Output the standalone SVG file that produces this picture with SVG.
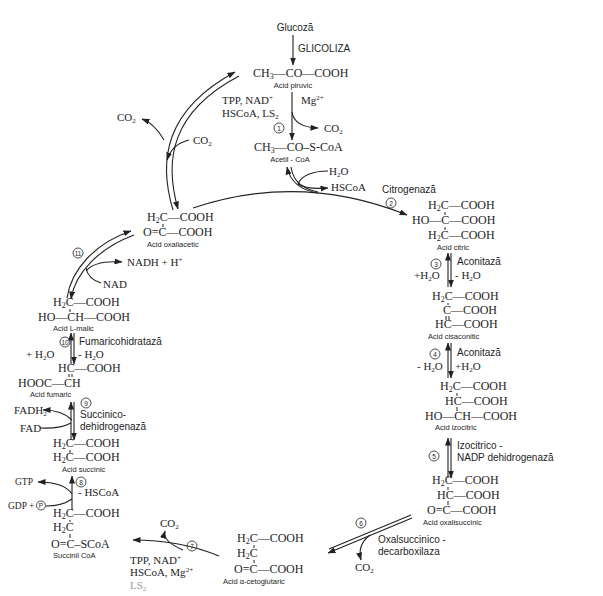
<svg xmlns="http://www.w3.org/2000/svg" width="603" height="596" viewBox="0 0 603 596">
<style>
text{fill:#1e1e1e}
.f{font-family:"Liberation Serif",serif;font-size:12px}
.s{font-family:"Liberation Serif",serif;font-size:11px}
.t{font-family:"Liberation Serif",serif;font-size:9.5px}
.l{font-family:"Liberation Sans",sans-serif;font-size:7.5px}
.e{font-family:"Liberation Sans",sans-serif;font-size:10px}
.n{font-family:"Liberation Sans",sans-serif;font-size:6.5px;text-anchor:middle}
.ln{stroke:#222;stroke-width:1.1;fill:none}
.a{stroke:#222;stroke-width:1.1;fill:none;marker-end:url(#ah)}
.b{stroke:#222;stroke-width:1}
.c{fill:none;stroke:#222;stroke-width:0.8}
</style>
<defs>
<marker id="ah" markerUnits="userSpaceOnUse" markerWidth="8" markerHeight="6" refX="7.5" refY="3" orient="auto"><path d="M0,0 L8,3 L0,6 z" fill="#222"/></marker>
</defs>
<rect width="603" height="596" fill="#fff"/>

<g id="connectors">
<path class="a" d="M293,35 L293,65"/>
<path class="a" d="M292,92 L292,140"/>
<path class="a" d="M292,112 Q294,127 318,128"/>
<path class="a" d="M193,208 Q300,172 407,215"/>
<path class="ln" d="M291,167 C293,180 300,188 318,192"/>
<path class="a" d="M318,193 C300,190 290,182 287,167"/>
<path class="ln" d="M328,171 C312,171 301,176 298,184"/>
<path class="a" d="M298,184 C304,188 315,189 328,188"/>
<path class="a" d="M173,210 C158,160 165,110 235,72"/>
<path class="a" d="M239,76 C171,112 164,160 178,209"/>
<path class="a" d="M164,140 Q155,124 142,119"/>
<path class="a" d="M189,140 Q172,144 167,160"/>
<path class="a" d="M67,298 C71,270 95,243 131,231"/>
<path class="a" d="M134,235 C99,248 75,273 71,299"/>
<path class="a" d="M86,271 Q95,260 122,262"/>
<path class="ln" d="M101,283 Q88,279 86,268"/>
<path class="a" d="M448,287 L448,253"/>
<path class="a" d="M451,253 L451,287"/>
<path class="a" d="M448,378 L448,343"/>
<path class="a" d="M451,343 L451,378"/>
<path class="a" d="M448,478 L448,438"/>
<path class="a" d="M451,438 L451,478"/>
<path class="ln" d="M411,515 L329,549" stroke-width="1.4"/>
<path class="a" d="M412,518 L328,553" stroke-width="1.4"/>
<path class="a" d="M370,535 Q357,545 361,560"/>
<path class="a" d="M219,556 Q180,540 133,540" stroke-width="1.4"/>
<path class="a" d="M183,550 Q162,541 165,531"/>
<path class="a" d="M72,510 L72,476"/>
<path class="a" d="M72,494 Q64,482 38,482"/>
<path class="ln" d="M46,506 Q62,506 72,499"/>
<path class="a" d="M71,440 L71,402"/>
<path class="a" d="M74,402 L74,440"/>
<path class="a" d="M72,420 Q62,410 43,410"/>
<path class="ln" d="M40,428 Q60,429 71,423"/>
<path class="a" d="M71,364 L71,333"/>
<path class="a" d="M74,333 L74,364"/>
</g>

<g id="glucoza"><text class="e" x="295" y="31" text-anchor="middle">Glucoză</text></g>
<g id="glicoliza"><text class="e" x="298" y="52">GLICOLIZA</text></g>

<g id="piruvic">
<text class="f" x="253" y="77">CH<tspan font-size="8" dy="2">3</tspan><tspan dy="-2">—CO—COOH</tspan></text>
<text class="l" x="293" y="88" text-anchor="middle">Acid piruvic</text>
</g>
<g id="step1">
<text class="s" x="222" y="104">TPP, NAD<tspan font-size="7" dy="-4">+</tspan></text>
<text class="s" x="222" y="117">HSCoA, LS<tspan font-size="7" dy="2">2</tspan></text>
<text class="s" x="301" y="104">Mg<tspan font-size="7" dy="-4">2+</tspan></text>
<text class="s" x="324" y="132">CO<tspan font-size="7" dy="2">2</tspan></text>
<circle class="c" cx="279" cy="128" r="5"/><text class="n" x="279" y="130.5">1</text>
</g>
<g id="acetilcoa">
<text class="f" x="254" y="151">CH<tspan font-size="8" dy="2">3</tspan><tspan dy="-2">—CO–S-CoA</tspan></text>
<text class="l" x="290" y="162" text-anchor="middle">Acetil - CoA</text>
<text class="s" x="329" y="175">H<tspan font-size="7" dy="2">2</tspan><tspan dy="-2">O</tspan></text>
<text class="s" x="331" y="191">HSCoA</text>
</g>

<g id="co2-left">
<text class="s" x="117" y="121">CO<tspan font-size="7" dy="2">2</tspan></text>
<text class="s" x="193" y="144">CO<tspan font-size="7" dy="2">2</tspan></text>
</g>

<g id="oxaliacetic">
<text class="f" x="147" y="221">H<tspan font-size="8" dy="2">2</tspan><tspan dy="-2">C—COOH</tspan></text>
<text class="f" x="143" y="236">O=C—COOH</text>
<line class="b" x1="163" y1="224" x2="163" y2="227"/>
<text class="l" x="147" y="247">Acid oxaliacetic</text>
</g>

<g id="step2">
<text class="e" x="382" y="193">Citrogenază</text>
<circle class="c" cx="391" cy="203" r="5"/><text class="n" x="391" y="205.5">2</text>
</g>

<g id="citric">
<text class="f" x="428" y="209">H<tspan font-size="8" dy="2">2</tspan><tspan dy="-2">C—COOH</tspan></text>
<text class="f" x="412" y="224">HO—C—COOH</text>
<text class="f" x="428" y="239">H<tspan font-size="8" dy="2">2</tspan><tspan dy="-2">C—COOH</tspan></text>
<line class="b" x1="445" y1="212" x2="445" y2="215"/>
<line class="b" x1="445" y1="227" x2="445" y2="230"/>
<text class="l" x="437" y="250">Acid citric</text>
</g>
<g id="step3">
<circle class="c" cx="436" cy="264" r="5"/><text class="n" x="436" y="266.5">3</text>
<text class="e" x="457" y="265">Aconitază</text>
<text class="s" x="414" y="279">+H<tspan font-size="7" dy="2">2</tspan><tspan dy="-2">O</tspan></text>
<text class="s" x="455" y="279">- H<tspan font-size="7" dy="2">2</tspan><tspan dy="-2">O</tspan></text>
</g>

<g id="cisaconitic">
<text class="f" x="432" y="300">H<tspan font-size="8" dy="2">2</tspan><tspan dy="-2">C—COOH</tspan></text>
<text class="f" x="443" y="314">C—COOH</text>
<text class="f" x="435" y="328">HC—COOH</text>
<line class="b" x1="448" y1="303" x2="448" y2="305"/>
<line class="b" x1="446" y1="316" x2="446" y2="320"/>
<line class="b" x1="449" y1="316" x2="449" y2="320"/>
<text class="l" x="428" y="339">Acid cisaconitic</text>
</g>
<g id="step4">
<circle class="c" cx="435" cy="354" r="5"/><text class="n" x="435" y="356.5">4</text>
<text class="e" x="457" y="356">Aconitază</text>
<text class="s" x="417" y="370">- H<tspan font-size="7" dy="2">2</tspan><tspan dy="-2">O</tspan></text>
<text class="s" x="455" y="370">+H<tspan font-size="7" dy="2">2</tspan><tspan dy="-2">O</tspan></text>
</g>

<g id="izocitric">
<text class="f" x="440" y="390">H<tspan font-size="8" dy="2">2</tspan><tspan dy="-2">C—COOH</tspan></text>
<text class="f" x="445" y="405">HC—COOH</text>
<text class="f" x="425" y="420">HO—CH—COOH</text>
<line class="b" x1="457" y1="393" x2="457" y2="396"/>
<line class="b" x1="457" y1="407" x2="457" y2="411"/>
<text class="l" x="435" y="430">Acid izocitric</text>
</g>
<g id="step5">
<circle class="c" cx="434" cy="456" r="5"/><text class="n" x="434" y="458.5">5</text>
<text class="e" x="457" y="449">Izocitrico -</text>
<text class="e" x="457" y="461">NADP dehidrogenază</text>
</g>

<g id="oxalisuccinic">
<text class="f" x="432" y="484">H<tspan font-size="8" dy="2">2</tspan><tspan dy="-2">C—COOH</tspan></text>
<text class="f" x="437" y="499">HC—COOH</text>
<text class="f" x="427" y="514">O=C—COOH</text>
<line class="b" x1="448" y1="487" x2="448" y2="490"/>
<line class="b" x1="448" y1="501" x2="448" y2="505"/>
<text class="l" x="423" y="525">Acid oxalisuccinic</text>
</g>
<g id="step6">
<circle class="c" cx="361" cy="523" r="5"/><text class="n" x="361" y="525.5">6</text>
<text class="e" x="378" y="543">Oxalsuccinico -</text>
<text class="e" x="378" y="555">decarboxilaza</text>
<text class="s" x="355" y="571">CO<tspan font-size="7" dy="2">2</tspan></text>
</g>

<g id="cetoglutaric">
<text class="f" x="237" y="542">H<tspan font-size="8" dy="2">2</tspan><tspan dy="-2">C—COOH</tspan></text>
<text class="f" x="237" y="557">H<tspan font-size="8" dy="2">2</tspan><tspan dy="-2">C</tspan></text>
<text class="f" x="234" y="573">O=C—COOH</text>
<line class="b" x1="254" y1="545" x2="254" y2="548"/>
<line class="b" x1="254" y1="560" x2="254" y2="563"/>
<text class="l" x="223" y="584">Acid α-cetoglutaric</text>
</g>
<g id="step7">
<circle class="c" cx="192" cy="546" r="5"/><text class="n" x="192" y="548.5">7</text>
<text class="s" x="160" y="527">CO<tspan font-size="7" dy="2">2</tspan></text>
<text class="s" x="130" y="564">TPP, NAD<tspan font-size="7" dy="-4">+</tspan></text>
<text class="s" x="130" y="576">HSCoA, Mg<tspan font-size="7" dy="-4">2+</tspan></text>
<text class="s" x="130" y="589" style="fill:#999">LS<tspan font-size="7" dy="2">2</tspan></text>
</g>

<g id="succinilcoa">
<text class="f" x="53" y="517">H<tspan font-size="8" dy="2">2</tspan><tspan dy="-2">C—COOH</tspan></text>
<text class="f" x="53" y="531">H<tspan font-size="8" dy="2">2</tspan><tspan dy="-2">C</tspan></text>
<text class="f" x="51" y="548">O=C–SCoA</text>
<line class="b" x1="70" y1="520" x2="70" y2="522"/>
<line class="b" x1="70" y1="534" x2="70" y2="538"/>
<text class="l" x="53" y="558">Succinil CoA</text>
</g>
<g id="step8">
<circle class="c" cx="81" cy="482" r="5"/><text class="n" x="81" y="484.5">8</text>
<text class="s" x="78" y="496">- HSCoA</text>
<text class="t" x="15" y="485">GTP</text>
<text class="t" x="8" y="509">GDP +</text>
<circle class="c" cx="41" cy="505.5" r="4.5"/><text class="n" x="41" y="508">P</text>
</g>

<g id="succinic">
<text class="f" x="53" y="447">H<tspan font-size="8" dy="2">2</tspan><tspan dy="-2">C—COOH</tspan></text>
<text class="f" x="53" y="461">H<tspan font-size="8" dy="2">2</tspan><tspan dy="-2">C—COOH</tspan></text>
<line class="b" x1="70" y1="450" x2="70" y2="453"/>
<text class="l" x="62" y="472">Acid succinic</text>
</g>
<g id="step9">
<circle class="c" cx="86" cy="403" r="5"/><text class="n" x="86" y="405.5">9</text>
<text class="e" x="80" y="418">Succinico-</text>
<text class="e" x="80" y="430">dehidrogenază</text>
<text class="s" x="14" y="414">FADH<tspan font-size="7" dy="2">2</tspan></text>
<text class="s" x="20" y="432">FAD</text>
</g>

<g id="fumaric">
<text class="f" x="58" y="372">HC—COOH</text>
<text class="f" x="18" y="387">HOOC—CH</text>
<line class="b" x1="69" y1="374" x2="69" y2="377"/>
<line class="b" x1="72" y1="374" x2="72" y2="377"/>
<text class="l" x="30" y="397">Acid fumaric</text>
</g>
<g id="step10">
<circle class="c" cx="65" cy="342" r="5"/><text class="n" x="65" y="344.5">10</text>
<text class="e" x="79" y="345">Fumaricohidratază</text>
<text class="s" x="26" y="358">+ H<tspan font-size="7" dy="2">2</tspan><tspan dy="-2">O</tspan></text>
<text class="s" x="78" y="358">- H<tspan font-size="7" dy="2">2</tspan><tspan dy="-2">O</tspan></text>
</g>

<g id="malic">
<text class="f" x="53" y="306">H<tspan font-size="8" dy="2">2</tspan><tspan dy="-2">C—COOH</tspan></text>
<text class="f" x="38" y="321">HO—CH—COOH</text>
<line class="b" x1="70" y1="309" x2="70" y2="312"/>
<text class="l" x="53" y="331">Acid L-malic</text>
</g>
<g id="step11">
<circle class="c" cx="78" cy="253" r="5"/><text class="n" x="78" y="255.5">11</text>
<text class="s" x="127" y="266">NADH + H<tspan font-size="7" dy="-4">+</tspan></text>
<text class="s" x="103" y="288">NAD</text>
</g>
</svg>
